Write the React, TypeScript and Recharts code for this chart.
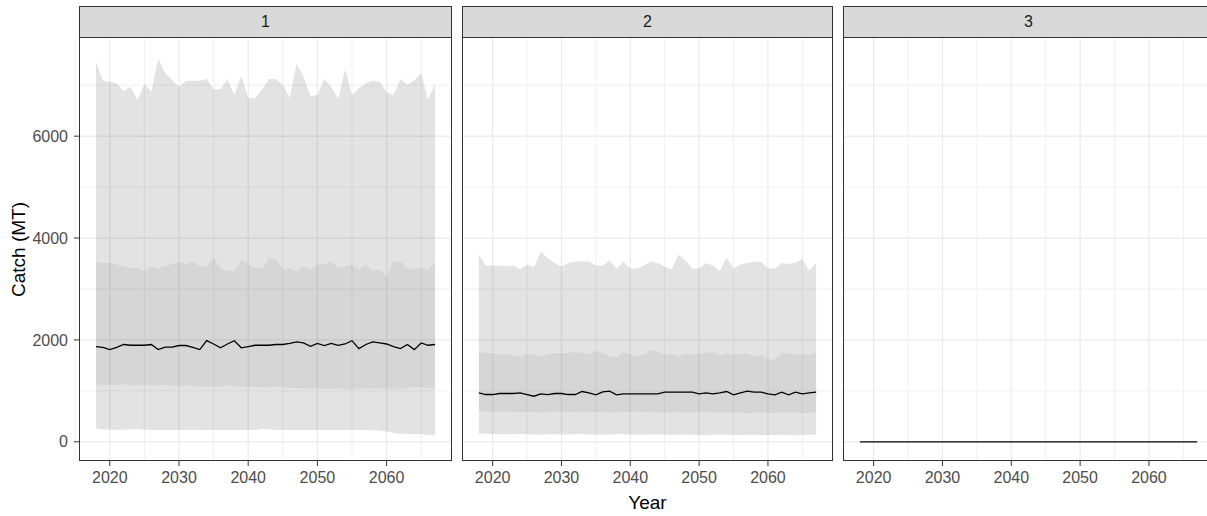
import { ComposedChart, Area, Line, XAxis, YAxis, CartesianGrid } from 'recharts';

// projection years
const years = [
  2018, 2019, 2020, 2021, 2022, 2023, 2024, 2025, 2026, 2027,
  2028, 2029, 2030, 2031, 2032, 2033, 2034, 2035, 2036, 2037,
  2038, 2039, 2040, 2041, 2042, 2043, 2044, 2045, 2046, 2047,
  2048, 2049, 2050, 2051, 2052, 2053, 2054, 2055, 2056, 2057,
  2058, 2059, 2060, 2061, 2062, 2063, 2064, 2065, 2066, 2067,
];

// facet 1
const p1Hi95 = [
  7460, 7090, 7070, 7040, 6880, 6970, 6710, 7020, 6880, 7520,
  7240, 7100, 6970, 7090, 7090, 7090, 7120, 6920, 6920, 7120,
  6810, 7180, 6750, 6750, 6910, 7120, 7120, 7010, 6750, 7420,
  7170, 6790, 6810, 7120, 6970, 6730, 7310, 6810, 6940, 7040,
  7090, 7070, 6860, 6810, 7120, 7010, 7100, 7240, 6710, 7030,
];
const p1Hi75 = [
  3540, 3510, 3510, 3480, 3440, 3410, 3410, 3350, 3440, 3400,
  3440, 3490, 3540, 3480, 3540, 3440, 3440, 3620, 3410, 3350,
  3350, 3580, 3480, 3410, 3410, 3610, 3580, 3380, 3410, 3350,
  3440, 3380, 3480, 3480, 3540, 3410, 3440, 3480, 3380, 3480,
  3350, 3380, 3250, 3540, 3540, 3410, 3380, 3410, 3380, 3540,
];
const p1Median = [
  1870, 1855, 1810, 1855, 1910, 1895, 1895, 1895, 1910, 1810,
  1860, 1860, 1890, 1890, 1855, 1810, 1985, 1920, 1845, 1920,
  1985, 1845, 1870, 1895, 1895, 1895, 1910, 1910, 1930, 1960,
  1940, 1875, 1930, 1890, 1930, 1895, 1920, 1985, 1830, 1910,
  1960, 1940, 1920, 1870, 1830, 1910, 1810, 1940, 1895, 1910,
];
const p1Lo25 = [
  1130, 1110, 1120, 1115, 1130, 1110, 1100, 1125, 1110, 1100,
  1120, 1095, 1090, 1100, 1090, 1085, 1080, 1080, 1080, 1110,
  1090, 1085, 1080, 1075, 1070, 1060, 1080, 1065, 1060, 1050,
  1050, 1040, 1040, 1045, 1040, 1040, 1030, 1030, 1035, 1040,
  1050, 1045, 1035, 1030, 1040, 1050, 1070, 1065, 1060, 1050,
];
const p1Lo5 = [
  260, 240, 235, 235, 235, 240, 250, 235, 230, 230,
  230, 230, 230, 230, 235, 230, 230, 230, 230, 230,
  230, 230, 230, 230, 255, 245, 230, 230, 230, 230,
  230, 230, 230, 230, 230, 230, 230, 230, 230, 230,
  225, 220, 200, 175, 160, 155, 155, 150, 135, 125,
];

// facet 2
const p2Hi95 = [
  3670, 3460, 3460, 3460, 3440, 3460, 3380, 3480, 3430, 3730,
  3610, 3510, 3440, 3510, 3540, 3540, 3540, 3460, 3460, 3560,
  3400, 3540, 3400, 3400, 3460, 3540, 3510, 3440, 3380, 3670,
  3560, 3400, 3400, 3510, 3460, 3350, 3620, 3400, 3480, 3510,
  3540, 3530, 3400, 3400, 3510, 3490, 3510, 3590, 3360, 3510,
];
const p2Hi75 = [
  1765, 1745, 1745, 1712, 1712, 1699, 1679, 1726, 1712, 1679,
  1726, 1745, 1745, 1745, 1765, 1745, 1712, 1791, 1745, 1679,
  1660, 1765, 1726, 1679, 1712, 1791, 1778, 1699, 1726, 1679,
  1726, 1699, 1745, 1745, 1765, 1699, 1745, 1712, 1726, 1745,
  1679, 1712, 1614, 1614, 1745, 1745, 1699, 1726, 1699, 1765,
];
const p2Median = [
  961, 928, 928, 948, 948, 948, 961, 928, 895, 941,
  928, 948, 948, 928, 928, 987, 961, 922, 981, 994,
  922, 941, 941, 941, 941, 941, 941, 974, 974, 974,
  974, 974, 941, 961, 941, 961, 987, 922, 961, 994,
  974, 974, 941, 922, 974, 922, 974, 941, 961, 974,
];
const p2Lo25 = [
  600, 595, 595, 590, 590, 585, 580, 585, 580, 575,
  580, 585, 590, 585, 580, 575, 580, 585, 580, 575,
  575, 580, 585, 590, 585, 580, 575, 570, 575, 580,
  575, 570, 575, 580, 575, 570, 570, 575, 570, 565,
  570, 575, 570, 565, 570, 575, 570, 565, 570, 575,
];
const p2Lo5 = [
  165, 160, 155, 150, 150, 155, 150, 150, 145, 145,
  150, 150, 145, 145, 150, 150, 145, 145, 140, 145,
  150, 150, 145, 145, 140, 145, 150, 140, 135, 140,
  145, 140, 135, 135, 140, 145, 140, 135, 135, 140,
  140, 135, 130, 135, 140, 135, 130, 135, 140, 140,
];

// facet 3 - nothing caught
const p3Median = [
  0, 0, 0, 0, 0, 0, 0, 0, 0, 0,
  0, 0, 0, 0, 0, 0, 0, 0, 0, 0,
  0, 0, 0, 0, 0, 0, 0, 0, 0, 0,
  0, 0, 0, 0, 0, 0, 0, 0, 0, 0,
  0, 0, 0, 0, 0, 0, 0, 0, 0, 0,
];

const facetLabels = ['1', '2', '3'];
const xTicks = [2020, 2030, 2040, 2050, 2060];
const xMinor = [2015, 2025, 2035, 2045, 2055, 2065];
const yTicks = [0, 2000, 4000, 6000];
const yMinor = [1000, 3000, 5000, 7000];

const X_DOMAIN = [2015.55, 2069.45];
const Y_DOMAIN = [-377, 7927];

const GRID = '#EBEBEB';
const BORDER = '#333333';
const TICK_TEXT = '#4D4D4D';

const makeRows = (lo5: number[], lo25: number[], med: number[], hi75: number[], hi95: number[]) =>
  years.map((year, i) => ({
    year,
    outer: [lo5[i], hi95[i]],
    inner: [lo25[i], hi75[i]],
    median: med[i],
  }));

const rows1 = makeRows(p1Lo5, p1Lo25, p1Median, p1Hi75, p1Hi95);
const rows2 = makeRows(p2Lo5, p2Lo25, p2Median, p2Hi75, p2Hi95);
const rows3 = years.map((year, i) => ({ year, median: p3Median[i] }));

const PLOT_TOP = 38;
const PLOT_H = 423;
const X_AXIS_H = 55;
const Y_AXIS_W = 79;

type PanelProps = {
  rows: any[];
  left: number;
  plotWidth: number;
  label: string;
  showY?: boolean;
  ribbons?: boolean;
  xTitle?: boolean;
};

const Panel = ({ rows, left, plotWidth, label, showY, ribbons, xTitle }: PanelProps) => {
  const axisW = showY ? Y_AXIS_W : 0;
  const plotLeft = left + axisW;
  return (
    <>
      <div
        style={{
          position: 'absolute',
          left: plotLeft,
          top: 6,
          width: plotWidth,
          height: 32,
          boxSizing: 'border-box',
          border: `1px solid ${BORDER}`,
          background: '#D9D9D9',
          color: '#1A1A1A',
          fontSize: 16,
          lineHeight: '30px',
          textAlign: 'center',
        }}
      >
        {label}
      </div>
      <div style={{ position: 'absolute', left, top: PLOT_TOP }}>
        <ComposedChart
          width={axisW + plotWidth}
          height={PLOT_H + X_AXIS_H}
          data={rows}
          margin={{ top: 0, right: 0, bottom: 0, left: 0 }}
        >
          <CartesianGrid
            stroke={GRID}
            strokeWidth={0.7}
            horizontalValues={yMinor}
            verticalValues={xMinor}
          />
          <CartesianGrid
            stroke={GRID}
            strokeWidth={1.2}
            horizontalValues={yTicks}
            verticalValues={xTicks}
          />
          <XAxis
            dataKey="year"
            type="number"
            domain={X_DOMAIN}
            ticks={xTicks}
            interval={0}
            allowDataOverflow
            height={X_AXIS_H}
            axisLine={false}
            tickLine={{ stroke: BORDER }}
            tickSize={5}
            tickMargin={6}
            tick={{ fill: TICK_TEXT, fontSize: 16 }}
            label={xTitle ? { value: 'Year', position: 'insideBottom', offset: 7, fill: '#000', fontSize: 19 } : undefined}
          />
          <YAxis
            type="number"
            domain={Y_DOMAIN}
            ticks={yTicks}
            interval={0}
            allowDataOverflow
            hide={!showY}
            width={Y_AXIS_W}
            axisLine={false}
            tickLine={{ stroke: BORDER }}
            tickSize={5}
            tickMargin={6}
            tick={{ fill: TICK_TEXT, fontSize: 16 }}
            label={
              showY
                ? {
                    value: 'Catch (MT)',
                    angle: -90,
                    position: 'insideLeft',
                    offset: 18,
                    fill: '#000',
                    fontSize: 19,
                    style: { textAnchor: 'middle' },
                  }
                : undefined
            }
          />
          {ribbons && (
            <Area
              dataKey="outer"
              type="linear"
              stroke="none"
              fill="#000"
              fillOpacity={0.11}
              activeDot={false}
              isAnimationActive={false}
            />
          )}
          {ribbons && (
            <Area
              dataKey="inner"
              type="linear"
              stroke="none"
              fill="#000"
              fillOpacity={0.055}
              activeDot={false}
              isAnimationActive={false}
            />
          )}
          <Line
            dataKey="median"
            type="linear"
            stroke="#000"
            strokeWidth={1.3}
            dot={false}
            activeDot={false}
            isAnimationActive={false}
          />
        </ComposedChart>
      </div>
      <div
        style={{
          position: 'absolute',
          left: plotLeft,
          top: PLOT_TOP - 1,
          width: plotWidth,
          height: PLOT_H + 1,
          boxSizing: 'border-box',
          border: `1px solid ${BORDER}`,
          pointerEvents: 'none',
        }}
      />
    </>
  );
};

export default function App() {
  return (
    <div
      style={{
        position: 'fixed',
        left: 0,
        top: 0,
        width: 1207,
        height: 516,
        overflow: 'hidden',
        background: '#fff',
        fontFamily: '"Liberation Sans", Arial, sans-serif',
      }}
    >
      <Panel rows={rows1} left={0} plotWidth={373} label={facetLabels[0]} showY ribbons />
      <Panel rows={rows2} left={462} plotWidth={371} label={facetLabels[1]} ribbons xTitle />
      <Panel rows={rows3} left={843} plotWidth={371} label={facetLabels[2]} />
    </div>
  );
}
